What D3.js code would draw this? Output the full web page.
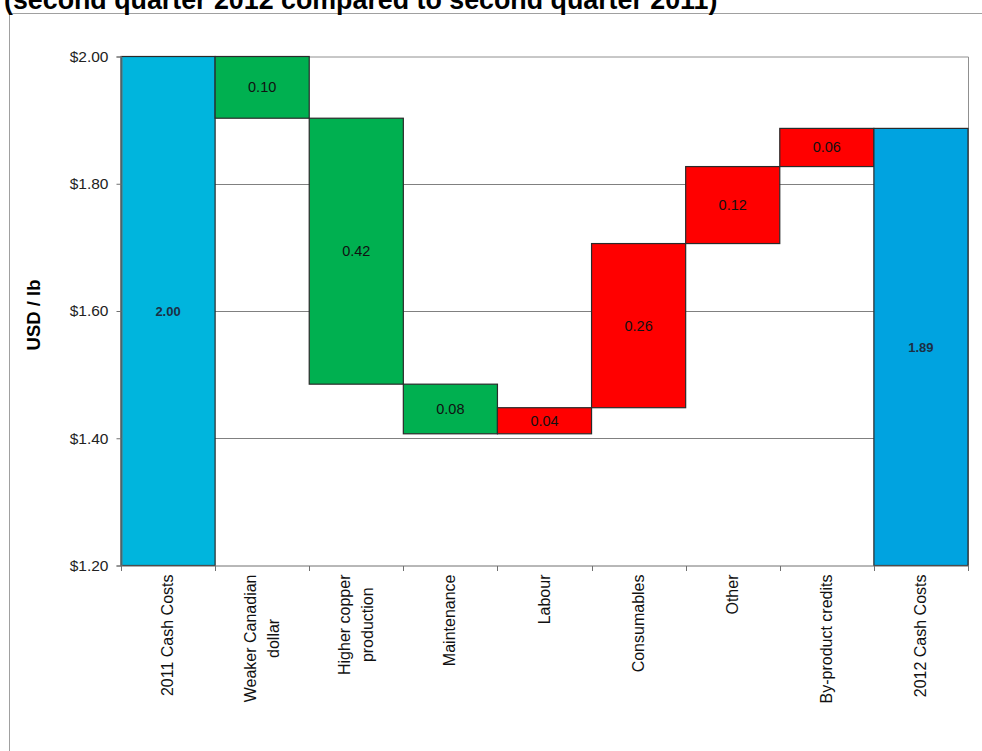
<!DOCTYPE html>
<html>
<head>
<meta charset="utf-8">
<script src="https://cdn.jsdelivr.net/npm/d3@7"></script>
<style>
  body { margin: 0; background: #fff; }
  text { font-family: "Liberation Sans", Arial, sans-serif; }
</style>
</head>
<body>
<div id="viz"></div>
<script>
// waterfall data: start, step changes, end
var categories = ['2011 Cash Costs', 'Weaker Canadian dollar', 'Higher copper production', 'Maintenance',
  'Labour', 'Consumables', 'Other', 'By-product credits', '2012 Cash Costs'];
var startValue = 2.00;
var deltas = [-0.097, -0.418, -0.078, 0.041, 0.258, 0.121, 0.060];
var yTicks = [1.20, 1.40, 1.60, 1.80, 2.00];

// wrapped x labels
var xLabelLines = [['2011 Cash Costs'], ['Weaker Canadian', 'dollar'], ['Higher copper', 'production'],
  ['Maintenance'], ['Labour'], ['Consumables'], ['Other'], ['By-product credits'], ['2012 Cash Costs']];

var width = 982, height = 751;
var svg = d3.select('#viz').append('svg')
  .attr('width', width)
  .attr('height', height);

// outer frame
svg.append('path')
  .attr('d', 'M9.5,' + height + ' V13.5 H' + width)
  .attr('fill', 'none')
  .attr('stroke', '#a0a0a0');

// title, clipped at the top
svg.append('text')
  .attr('x', 4)
  .attr('y', 8.5)
  .attr('font-size', '26.8px')
  .attr('font-weight', 'bold')
  .text('(second quarter 2012 compared to second quarter 2011)');

var pLeft = 121, pRight = 968, pTop = 56.5, pBottom = 565.5;

var x = d3.scaleBand().domain(categories).range([pLeft, pRight]).padding(0);
var y = d3.scaleLinear().domain([1.20, 2.00]).range([pBottom, pTop]);

// build bar list
var bars = [];
bars.push({ cat: categories[0], y0: y.domain()[0], y1: startValue, type: 'total', label: d3.format('.2f')(startValue) });
var run = startValue;
deltas.forEach(function (d, i) {
  var next = run + d;
  bars.push({ cat: categories[i + 1], y0: Math.min(run, next), y1: Math.max(run, next),
    type: d < 0 ? 'down' : 'up', label: d3.format('.2f')(Math.abs(d)) });
  run = next;
});
bars.push({ cat: categories[8], y0: y.domain()[0], y1: run, type: 'total2', label: d3.format('.2f')(run) });

var colors = { total: '#00b5dd', total2: '#00a3e0', down: '#00b050', up: '#ff0000' };

// gridlines
svg.append('g')
  .selectAll('line')
  .data(yTicks.slice(1, 4))
  .enter()
  .append('line')
  .attr('x1', pLeft).attr('x2', pRight)
  .attr('y1', function (d) { return Math.round(y(d)) + 0.5; })
  .attr('y2', function (d) { return Math.round(y(d)) + 0.5; })
  .attr('stroke', '#808080');

// plot border top and right
svg.append('path')
  .attr('d', 'M' + pLeft + ',' + (pTop + 0.5) + ' H' + (pRight + 0.5) + ' V' + pBottom)
  .attr('fill', 'none')
  .attr('stroke', '#909090');

// bars
svg.selectAll('.bar')
  .data(bars)
  .enter()
  .append('rect')
  .attr('class', 'bar')
  .attr('x', function (d) { return x(d.cat); })
  .attr('width', x.bandwidth())
  .attr('y', function (d) { return y(d.y1); })
  .attr('height', function (d) { return y(d.y0) - y(d.y1); })
  .attr('fill', function (d) { return colors[d.type]; })
  .attr('stroke', '#2a2a2a')
  .attr('stroke-width', 1.2);

// bar labels
svg.selectAll('.barLabel')
  .data(bars)
  .enter()
  .append('text')
  .attr('class', 'barLabel')
  .attr('x', function (d) { return x(d.cat) + x.bandwidth() / 2; })
  .attr('y', function (d) { return (y(d.y0) + y(d.y1)) / 2 + 5; })
  .attr('text-anchor', 'middle')
  .attr('font-size', function (d) { return d.type.indexOf('total') === 0 ? '13px' : '14.5px'; })
  .attr('font-weight', function (d) { return d.type.indexOf('total') === 0 ? 'bold' : 'normal'; })
  .attr('fill', function (d) { return d.type.indexOf('total') === 0 ? '#1c2f45' : '#111'; })
  .text(function (d) { return d.label; });

// y axis
var yAxis = svg.append('g')
  .attr('class', 'axis yAxis')
  .attr('transform', 'translate(' + (pLeft + 0.5) + ',0)')
  .call(d3.axisLeft(y).tickValues(yTicks).tickFormat(function (d) { return '$' + d3.format('.2f')(d); }).tickSize(5).tickPadding(8));
yAxis.selectAll('path, line').attr('stroke', '#707070');
yAxis.selectAll('text').attr('font-size', '15.5px').attr('fill', '#222').attr('font-family', '"Liberation Sans", Arial, sans-serif');

// x axis
var xAxis = svg.append('g')
  .attr('class', 'axis xAxis')
  .attr('transform', 'translate(0,' + (pBottom + 0.5) + ')');
xAxis.append('line')
  .attr('x1', pLeft).attr('x2', pRight)
  .attr('stroke', '#707070');
xAxis.selectAll('.tick')
  .data(d3.range(categories.length + 1))
  .enter()
  .append('line')
  .attr('x1', function (i) { return Math.round(pLeft + i * x.bandwidth()) + 0.5; })
  .attr('x2', function (i) { return Math.round(pLeft + i * x.bandwidth()) + 0.5; })
  .attr('y1', 0).attr('y2', 5)
  .attr('stroke', '#707070');

// rotated category labels: block starts at the axis, lines centred on each other
var lblG = svg.append('g');
categories.forEach(function (c, i) {
  var lines = xLabelLines[i];
  var cx = x(c) + x.bandwidth() / 2;
  var t = lblG.append('text')
    .attr('transform', 'translate(' + cx + ',' + (pBottom + 9) + ') rotate(-90)')
    .attr('text-anchor', 'middle')
    .attr('font-size', '16px')
    .attr('fill', '#111');
  var n = lines.length;
  var spans = lines.map(function (l, j) {
    return t.append('tspan')
      .attr('y', (j - (n - 1) / 2) * 23 + 5)
      .text(l);
  });
  var maxW = d3.max(spans, function (s) { return s.node().getComputedTextLength(); });
  spans.forEach(function (s) { s.attr('x', -maxW / 2); });
});

// y axis title
svg.append('text')
  .attr('transform', 'translate(40,315) rotate(-90)')
  .attr('text-anchor', 'middle')
  .attr('font-size', '18.5px')
  .attr('font-weight', 'bold')
  .text('USD / lb');
</script>
</body>
</html>
